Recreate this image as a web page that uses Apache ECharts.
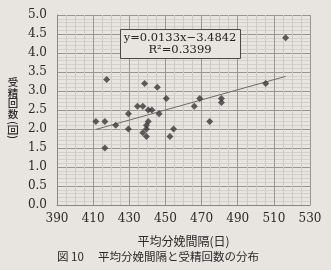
<!DOCTYPE html>
<html>
<head>
<meta charset="utf-8">
<script src="https://cdn.jsdelivr.net/npm/echarts@6/dist/echarts.min.js"></script>
<style>
html,body{margin:0;padding:0;background:#e8e5e0;}
#c{width:331px;height:270px;}
</style>
</head>
<body>
<div id="c"></div>
<script>
// Data
var calvingInterval = [411.5, 416.5, 417.5, 416.5, 422.5, 429.5, 429.5, 434.5, 437.5, 438.5,
                       440.5, 442.5, 440.5, 439.5, 439.5, 437.5, 439.5, 445.5, 446.5, 450.5,
                       454.5, 452.5, 466, 469, 474.5, 481, 481, 505.5, 516.5];
var inseminations   = [2.2, 2.2, 3.3, 1.5, 2.1, 2.4, 2.0, 2.6, 2.6, 3.2,
                       2.5, 2.5, 2.2, 2.1, 2.0, 1.9, 1.8, 3.1, 2.4, 2.8,
                       2.0, 1.8, 2.6, 2.8, 2.2, 2.8, 2.7, 3.2, 4.4];
var slope = 0.0133, intercept = -3.4842, r2 = 0.3399;
var xTicks = [390, 410, 430, 450, 470, 490, 510, 530];
var yTicks = [0, 0.5, 1, 1.5, 2, 2.5, 3, 3.5, 4, 4.5, 5];
var yTitleChars = ['受', '精', '回', '数'];

var points = calvingInterval.map(function (x, i) { return [x, inseminations[i]]; });
var xMin = Math.min.apply(null, calvingInterval), xMax = Math.max.apply(null, calvingInterval);
var trend = [[xMin, slope * xMin + intercept], [xMax, slope * xMax + intercept]];

var chart = echarts.init(document.getElementById('c'));
var serif = '"DejaVu Serif", serif';
var cjk = '"Noto Sans CJK JP", sans-serif';

var graphics = yTitleChars.map(function (ch, i) {
  return {
    type: 'text', id: 'yt' + i, x: 13, y: 82.5 + i * 10.5, z: 11,
    style: {text: ch, fill: '#2a2a2a', fontFamily: 'Noto Sans CJK JP', fontSize: 10.5, fontWeight: 500,
      align: 'center', verticalAlign: 'middle'}
  };
});
graphics.push(
  {
    type: 'text', id: 'ytp', x: 13, y: 130, z: 11, rotation: -Math.PI / 2,
    style: {text: '(回)', fill: '#2a2a2a', fontFamily: 'Noto Sans CJK JP', fontSize: 10.5, fontWeight: 500,
      align: 'center', verticalAlign: 'middle'}
  },
  {
    type: 'rect', id: 'box', left: 120, top: 29, z: 10,
    shape: {width: 120, height: 29},
    style: {fill: '#e8e5e0', stroke: '#4a4745', lineWidth: 1}
  },
  {
    type: 'text', id: 'eq1', x: 180, y: 38, z: 11,
    style: {text: 'y=0.0133x−3.4842', fill: '#222', fontFamily: 'DejaVu Serif', fontSize: 11.5,
      align: 'center', verticalAlign: 'middle'}
  },
  {
    type: 'text', id: 'eq2', x: 180, y: 50, z: 11,
    style: {text: 'R²=' + r2.toFixed(4), fill: '#222', fontFamily: 'DejaVu Serif', fontSize: 11.5,
      align: 'center', verticalAlign: 'middle'}
  },
  {
    type: 'text', id: 'cap', x: 57, y: 257, z: 11,
    style: {text: '図 10 　平均分娩間隔と受精回数の分布', fill: '#2a2a2a',
      fontFamily: 'Noto Sans CJK JP', fontSize: 11.5, verticalAlign: 'middle'}
  }
);

chart.setOption({
  animation: false,
  backgroundColor: '#e8e5e0',
  grid: {left: 57, right: 21, top: 15, bottom: 65},
  xAxis: {
    type: 'value', min: xTicks[0], max: xTicks[xTicks.length - 1], interval: 20,
    axisLine: {show: true, lineStyle: {color: '#8a8682', width: 1}},
    axisTick: {show: false},
    axisLabel: {color: '#2a2a2a', fontFamily: serif, fontSize: 12, margin: 8},
    splitLine: {show: true, lineStyle: {color: '#9a9692', width: 1}},
    minorTick: {show: false, splitNumber: 4},
    minorSplitLine: {show: true, lineStyle: {color: '#cdc9c3', width: 1}},
    name: '平均分娩間隔(日)', nameLocation: 'middle', nameGap: 30,
    nameTextStyle: {color: '#2a2a2a', fontFamily: cjk, fontSize: 12}
  },
  yAxis: {
    type: 'value', min: yTicks[0], max: yTicks[yTicks.length - 1], interval: 0.5,
    axisLine: {show: true, lineStyle: {color: '#8a8682', width: 1}},
    axisTick: {show: false},
    axisLabel: {color: '#2a2a2a', fontFamily: serif, fontSize: 12, margin: 10,
      formatter: function (v) { return v.toFixed(1); }},
    splitLine: {show: true, lineStyle: {color: '#9a9692', width: 1}},
    minorTick: {show: false, splitNumber: 5},
    minorSplitLine: {show: true, lineStyle: {color: '#d3cfc9', width: 1}}
  },
  series: [
    {
      type: 'line', data: trend, symbol: 'none', silent: true,
      lineStyle: {color: '#6e6b68', width: 1}, z: 2
    },
    {
      type: 'scatter', data: points, symbol: 'diamond', symbolSize: 7,
      itemStyle: {color: '#3a3838'}, z: 3
    }
  ],
  graphic: graphics
});
</script>
</body>
</html>
